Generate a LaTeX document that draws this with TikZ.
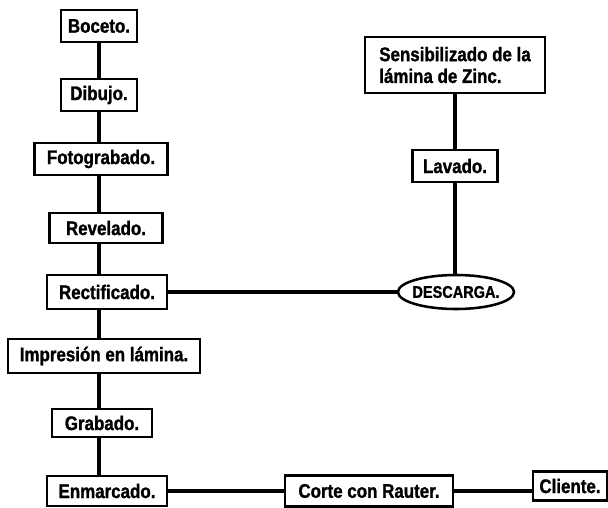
\documentclass[tikz,border=0pt]{standalone}
\usepackage{fontspec}
\setmainfont{Liberation Sans}[FakeStretch=0.86, BoldFeatures={FakeBold=1.2}]
\usetikzlibrary{shapes.geometric}

\begin{document}
\begin{tikzpicture}[x=0.025cm, y=-0.025cm,
    paso/.style={draw, rectangle, line width=1.8pt, fill=white, inner sep=1pt,
        font=\fontsize{14}{15.5}\selectfont\bfseries, align=center},
    salida/.style={draw, ellipse, line width=1.8pt, fill=white, inner sep=0pt,
        font=\fontsize{12}{14}\selectfont\bfseries},
    liga/.style={line width=2.2pt}]
    \useasboundingbox (0, 0) rectangle (608, 508);

    % columna principal
    \node[paso, minimum width=1.9cm, minimum height=0.8cm] (boceto) at (99, 26) {Boceto.};
    \node[paso, minimum width=1.9cm, minimum height=0.8cm] (dibujo) at (99, 95) {Dibujo.};
    \node[paso, minimum width=3.33cm, minimum height=0.8cm] (foto) at (101, 159) {Fotograbado.};
    \node[paso, minimum width=2.83cm, minimum height=0.75cm] (revel) at (106, 228) {Revelado.};
    \node[paso, minimum width=3cm, minimum height=0.85cm] (rectif) at (107, 292) {Rectificado.};
    \node[paso, minimum width=4.8cm, minimum height=0.85cm] (impres) at (104, 356) {Impresión en lámina.};
    \node[paso, minimum width=2.5cm, minimum height=0.7cm] (grabado) at (102, 423) {Grabado.};
    \node[paso, minimum width=3cm, minimum height=0.75cm] (enmarc) at (107, 491) {Enmarcado.};

    % rama de la lamina
    \node[paso, align=left, minimum width=4.5cm, minimum height=1.4cm] (sensib) at (455, 65)
        {Sensibilizado de la\\lámina de Zinc.};
    \node[paso, minimum width=2.13cm, minimum height=0.8cm] (lavado) at (455, 166) {Lavado.};
    \node[salida, minimum width=2.9cm, minimum height=0.85cm] (desc) at (456, 292)
        {\makebox[0pt]{DESCARGA.}};

    % fila inferior
    \node[paso, minimum width=4.2cm, minimum height=0.78cm] (corte) at (369, 491) {Corte con Rauter.};
    \node[paso, minimum width=1.85cm, minimum height=0.72cm] (cliente) at (570, 486) {Cliente.};

    \draw[liga]
    (boceto.south) -- (boceto.south |- dibujo.north)
    (dibujo.south) -- (dibujo.south |- foto.north)
    (foto.south -| dibujo.south) -- (dibujo.south |- revel.north)
    (revel.south -| dibujo.south) -- (dibujo.south |- rectif.north)
    (rectif.south -| dibujo.south) -- (dibujo.south |- impres.north)
    (impres.south -| dibujo.south) -- (dibujo.south |- grabado.north)
    (grabado.south -| dibujo.south) -- (dibujo.south |- enmarc.north)
    (sensib.south -| lavado.north) -- (lavado.north)
    (lavado.south) -- (lavado.south |- desc.north)
    (rectif.east) -- (desc.west)
    (enmarc.east) -- (corte.west)
    (corte.east) -- (corte.east -| cliente.west);
\end{tikzpicture}
\end{document}
